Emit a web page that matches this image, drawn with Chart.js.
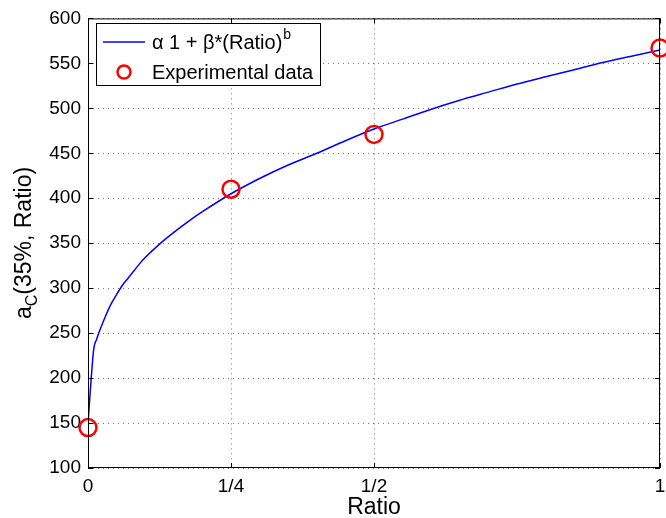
<!DOCTYPE html>
<html lang="en">
<head>
  <meta charset="UTF-8" />
  <title>Fit of a_C(35%, Ratio)</title>
  <script src="https://cdn.jsdelivr.net/npm/chart.js"></script>
  <style>
    html, body {
      margin: 0;
      padding: 0;
      background: #fff;
      overflow: hidden;
    }
    #wrap {
      width: 666px;
      height: 518px;
      overflow: hidden;
    }
  </style>
</head>
<body>
<!-- canvas is a few px wider than the frame: chart.js keeps marker room on the right,
     the last circle should sit on the frame edge and get cut -->
<div id="wrap"><canvas id="fitCanvas" width="671" height="518"></canvas></div>

<script>
// fitted curve, sampled along Ratio
const curveRatio = [0, 0.01, 0.015, 0.02, 0.03, 0.04, 0.05, 0.06, 0.07, 0.08, 0.09, 0.1, 0.125, 0.15, 0.175, 0.2, 0.25, 0.3, 0.35, 0.4, 0.45, 0.5, 0.55, 0.6, 0.65, 0.7, 0.75, 0.8, 0.85, 0.9, 0.95, 1];
const curveValue = [150, 232, 243, 252, 268, 282, 293, 303, 311, 319, 327, 334, 349, 362, 374, 385, 405, 422, 437, 450, 464, 477, 488, 499, 509, 518, 527, 535, 543, 551, 558, 565];

// measured points
const expRatio = [0, 0.25, 0.5, 1];
const expValue = [145, 410, 471, 567];

// axis ticks
const ratioTicks = [0, 0.25, 0.5, 1];
const ratioTickLabels = ["0", "1/4", "1/2", "1"];
const yMin = 100, yMax = 600, yStep = 50;

const FONT = "'Liberation Sans', Arial, Helvetica, sans-serif";

// box + inward tick marks, matlab style
const axesBox = {
  id: "axesBox",
  afterDatasetsDraw(chart) {
    const { ctx, chartArea: a, scales } = chart;
    ctx.save();
    ctx.strokeStyle = "#000";
    ctx.lineWidth = 1;
    ctx.strokeRect(a.left + 0.5, a.top + 0.5, a.right - a.left - 1, a.bottom - a.top - 1);
    const len = 5;
    ctx.beginPath();
    scales.y.ticks.forEach(t => {
      const py = Math.round(scales.y.getPixelForValue(t.value)) + 0.5;
      ctx.moveTo(a.left, py); ctx.lineTo(a.left + len, py);
      ctx.moveTo(a.right, py); ctx.lineTo(a.right - len, py);
    });
    scales.x.ticks.forEach(t => {
      const px = Math.round(scales.x.getPixelForValue(t.value)) + 0.5;
      ctx.moveTo(px, a.bottom); ctx.lineTo(px, a.bottom - len);
      ctx.moveTo(px, a.top); ctx.lineTo(px, a.top + len);
    });
    ctx.stroke();
    ctx.restore();
  }
};

// axis titles (y title has a subscript)
const axisTitles = {
  id: "axisTitles",
  afterDraw(chart) {
    const { ctx, chartArea: a } = chart;
    ctx.save();
    ctx.fillStyle = "#000";
    ctx.textBaseline = "alphabetic";

    ctx.font = "23px " + FONT;
    ctx.textAlign = "center";
    ctx.fillText("Ratio", (a.left + a.right) / 2, 514);

    // rotated y title: a_C(35%, Ratio)
    const big = "23px " + FONT, small = "16px " + FONT;
    ctx.font = big;
    const wA = ctx.measureText("a").width;
    const wRest = ctx.measureText("(35%, Ratio)").width;
    ctx.font = small;
    const wC = ctx.measureText("C").width;
    const total = wA + wC + wRest;
    ctx.translate(31, 243);
    ctx.rotate(-Math.PI / 2);
    ctx.textAlign = "left";
    let x = -total / 2;
    ctx.font = big;
    ctx.fillText("a", x, 0);
    x += wA;
    ctx.font = small;
    ctx.fillText("C", x, 6);
    x += wC;
    ctx.font = big;
    ctx.fillText("(35%, Ratio)", x, 0);
    ctx.restore();
  }
};

// legend box drawn by hand so the exponent can be raised
const fitLegend = {
  id: "fitLegend",
  afterDraw(chart) {
    const { ctx } = chart;
    const ds = chart.data.datasets;
    const bx = 96.5, by = 23.5, bw = 224, bh = 62;
    ctx.save();
    ctx.fillStyle = "#fff";
    ctx.fillRect(bx, by, bw, bh);
    ctx.strokeStyle = "#000";
    ctx.lineWidth = 1;
    ctx.strokeRect(bx, by, bw, bh);

    // row 1: line sample + label with superscript
    ctx.strokeStyle = ds[0].borderColor;
    ctx.lineWidth = ds[0].borderWidth;
    ctx.beginPath();
    ctx.moveTo(103, 42);
    ctx.lineTo(145, 42);
    ctx.stroke();
    ctx.fillStyle = "#000";
    ctx.textAlign = "left";
    ctx.textBaseline = "alphabetic";
    ctx.font = "20px " + FONT;
    ctx.fillText(ds[0].label, 152, 49);
    const w = ctx.measureText(ds[0].label).width;
    ctx.font = "14px " + FONT;
    ctx.fillText("b", 152 + w + 1, 39);

    // row 2: open circle marker
    ctx.strokeStyle = ds[1].borderColor;
    ctx.lineWidth = 2.5;
    ctx.beginPath();
    ctx.arc(124, 72, 6.5, 0, Math.PI * 2);
    ctx.stroke();
    ctx.font = "20px " + FONT;
    ctx.fillText(ds[1].label, 152, 79);
    ctx.restore();
  }
};

const ctx = document.getElementById("fitCanvas").getContext("2d");

new Chart(ctx, {
  type: "line",
  data: {
    datasets: [
      {
        label: "\u03b1 1 + \u03b2*(Ratio)",
        data: curveRatio.map((r, i) => ({ x: r, y: curveValue[i] })),
        borderColor: "#0000ff",
        borderWidth: 1.5,
        pointRadius: 0,
        cubicInterpolationMode: "monotone",
        fill: false,
        order: 2
      },
      {
        label: "Experimental data",
        data: expRatio.map((r, i) => ({ x: r, y: expValue[i] })),
        showLine: false,
        borderColor: "#ff0000",
        backgroundColor: "transparent",
        pointRadius: 8.5,
        pointBorderWidth: 2.5,
        clip: false,
        order: 1
      }
    ]
  },
  options: {
    responsive: false,
    animation: false,
    layout: { padding: { left: 0, right: 0, top: 17, bottom: 0 } },
    plugins: {
      legend: { display: false },
      tooltip: { enabled: false }
    },
    scales: {
      x: {
        type: "linear",
        min: 0,
        max: 1,
        afterBuildTicks: scale => {
          scale.ticks = ratioTicks.map(v => ({ value: v }));
        },
        afterFit: scale => {
          scale.height = 50;
          scale.paddingLeft = 0;
          scale.paddingRight = 0;
        },
        ticks: {
          autoSkip: false,
          maxRotation: 0,
          padding: 7,
          color: "#000",
          font: { family: FONT, size: 19 },
          callback: (value) => ratioTickLabels[ratioTicks.indexOf(value)]
        },
        grid: { color: "rgba(0,0,0,0.55)", lineWidth: 1, drawTicks: false },
        border: { display: false, dash: [1, 4] }
      },
      y: {
        min: yMin,
        max: yMax,
        afterFit: scale => { scale.width = 88; },
        ticks: {
          stepSize: yStep,
          padding: 7,
          color: "#000",
          font: { family: FONT, size: 19 }
        },
        grid: { color: "rgba(0,0,0,0.55)", lineWidth: 1, drawTicks: false },
        border: { display: false, dash: [1, 4] }
      }
    }
  },
  plugins: [axesBox, axisTitles, fitLegend]
});
</script>
</body>
</html>
